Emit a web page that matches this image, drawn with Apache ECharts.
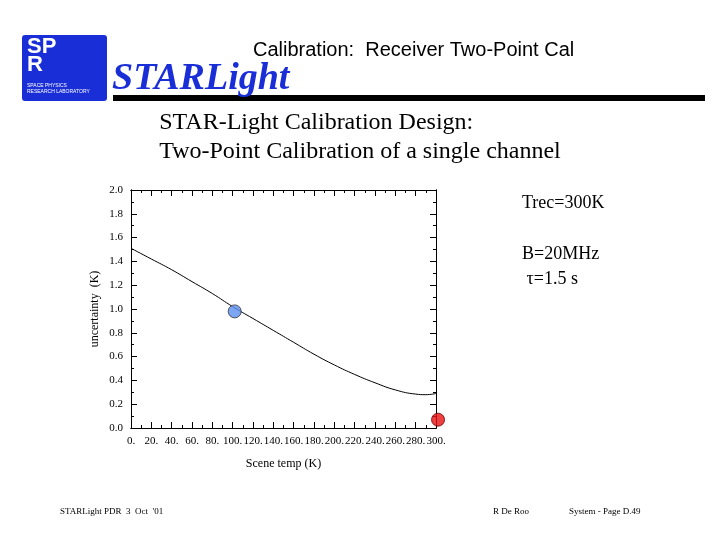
<!DOCTYPE html>
<html>
<head>
<meta charset="utf-8">
<script src="https://cdn.jsdelivr.net/npm/echarts@6/dist/echarts.min.js"></script>
<style>html,body{margin:0;padding:0;background:#fff}#c{width:720px;height:540px}</style>
</head>
<body>
<div id="c"></div>
<script>
// scene temperature (K) and uncertainty (K)
var sceneTemp = [0, 20, 40, 60, 80, 100, 120, 140, 160, 180, 200, 220, 240, 260, 280, 290, 300];
var uncertainty = [1.51, 1.42, 1.33, 1.23, 1.13, 1.02, 0.92, 0.82, 0.72, 0.62, 0.53, 0.45, 0.38, 0.32, 0.285, 0.28, 0.29];
var bluePoint = [102, 0.98];
var redPoint = [302, 0.07];

var chart = echarts.init(document.getElementById('c'));
var lbl = { fontFamily: 'Liberation Serif', fontSize: 11, color: '#000' };
var nameStyle = { fontFamily: 'Liberation Serif', fontSize: 12, color: '#000' };

function xAx(pos, step, len, labels) {
  return {
    type: 'value', min: 0, max: 300, interval: step, position: pos,
    axisLine: { show: true, onZero: false, lineStyle: { color: '#000' } },
    axisTick: { inside: true, length: len, lineStyle: { color: '#000' } },
    splitLine: { show: false },
    axisLabel: labels ? Object.assign({ formatter: function (v) { return v + '.'; }, margin: 8 }, lbl) : { show: false },
    name: labels ? 'Scene temp (K)' : '', nameLocation: 'middle', nameGap: 30, nameTextStyle: nameStyle
  };
}
function yAx(pos, step, len, labels) {
  return {
    type: 'value', min: 0, max: 2, interval: step, position: pos,
    axisLine: { show: true, onZero: false, lineStyle: { color: '#000' } },
    axisTick: { show: true, inside: true, length: len, lineStyle: { color: '#000' } },
    splitLine: { show: false },
    axisLabel: labels ? Object.assign({ formatter: function (v) { return v.toFixed(1); } }, lbl) : { show: false },
    name: labels ? 'uncertainty  (K)' : '', nameLocation: 'middle', nameGap: 30, nameTextStyle: nameStyle
  };
}

var frameSeries = [];
for (var i = 1; i < 4; i++) {
  frameSeries.push({ type: 'line', xAxisIndex: i, yAxisIndex: i, data: [], silent: true });
}

chart.setOption({
  animation: false,
  grid: { left: 131, top: 190, width: 305, height: 238 },
  xAxis: [xAx('bottom', 20, 6, true), xAx('bottom', 10, 3, false), xAx('top', 20, 6, false), xAx('top', 10, 3, false)],
  yAxis: [yAx('left', 0.2, 6, true), yAx('left', 0.1, 3, false), yAx('right', 0.2, 6, false), yAx('right', 0.1, 3, false)],
  series: [{
    type: 'line', smooth: true, symbol: 'none',
    lineStyle: { color: '#000', width: 1 },
    data: sceneTemp.map(function (t, i) { return [t, uncertainty[i]]; })
  }, {
    type: 'scatter', symbolSize: 13, z: 5,
    itemStyle: { color: '#5b8ff0', borderColor: '#333', borderWidth: 1 },
    data: [bluePoint]
  }, {
    type: 'scatter', symbolSize: 13, z: 5, clip: false,
    itemStyle: { color: '#e81010', borderColor: '#600', borderWidth: 1 },
    data: [redPoint]
  }].concat(frameSeries),
  graphic: [
    { type: 'rect', shape: { x: 22, y: 35, width: 85, height: 66, r: 3 }, style: { fill: '#1a2ed8' } },
    { type: 'text', left: 27, top: 36, style: { text: 'SP\nR', font: 'bold 22px Liberation Sans', fill: '#fff', lineHeight: 18 } },
    { type: 'text', left: 27, top: 83, style: { text: 'SPACE PHYSICS\nRESEARCH LABORATORY', font: '5px Liberation Sans', fill: '#fff', lineHeight: 6 } },
    { type: 'rect', shape: { x: 113, y: 95, width: 592, height: 6 }, style: { fill: '#000' } },
    { type: 'text', left: 112, top: 60, style: { text: 'STARLight', font: 'italic bold 38px Liberation Serif', fill: '#1a2ed8' } },
    { type: 'text', left: 253, top: 40, style: { text: 'Calibration:  Receiver Two-Point Cal', font: '20px Liberation Sans', fill: '#000' } },
    { type: 'text', left: 'center', top: 108, style: { text: 'STAR-Light Calibration Design:\nTwo-Point Calibration of a single channel', font: '24px Liberation Serif', fill: '#000', align: 'center', lineHeight: 29 } },
    { type: 'text', left: 522, top: 194, style: { text: 'Trec=300K', font: '18px Liberation Serif', fill: '#000' } },
    { type: 'text', left: 522, top: 242, style: { text: 'B=20MHz\n τ=1.5 s', font: '18px Liberation Serif', fill: '#000', lineHeight: 25 } },
    { type: 'text', left: 60, top: 507, style: { text: 'STARLight PDR  3  Oct  \'01', font: '9px Liberation Serif', fill: '#000' } },
    { type: 'text', left: 493, top: 507, style: { text: 'R De Roo', font: '9px Liberation Serif', fill: '#000' } },
    { type: 'text', left: 569, top: 507, style: { text: 'System - Page D.49', font: '9px Liberation Serif', fill: '#000' } }
  ]
});
</script>
</body>
</html>
